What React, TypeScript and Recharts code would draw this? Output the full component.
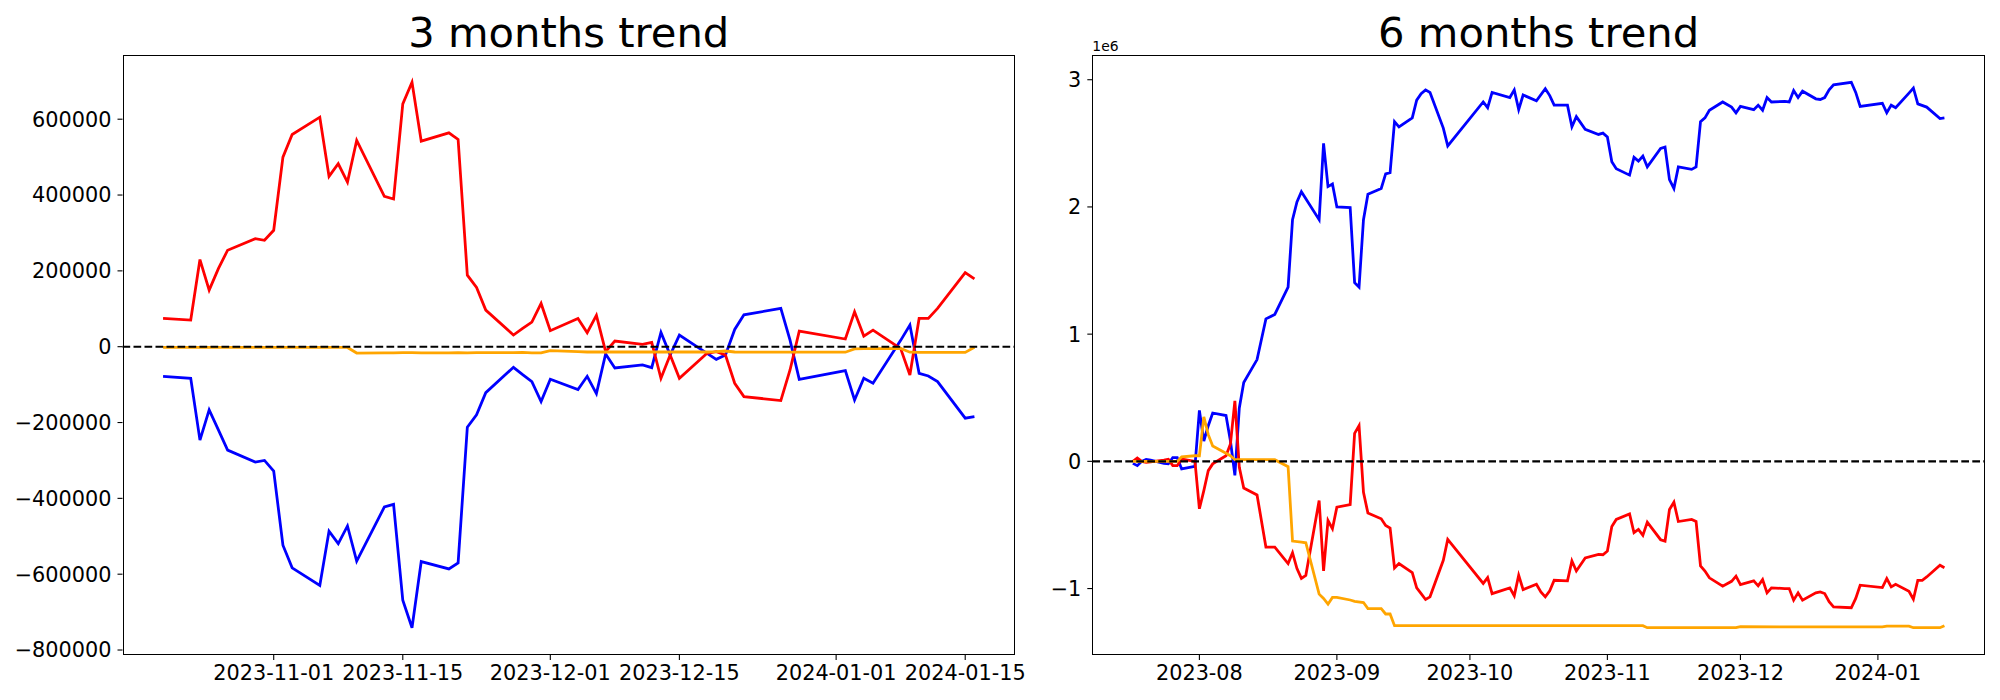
import { LineChart, Line, XAxis, YAxis, ReferenceLine } from "recharts";

const FONT = "DejaVu Sans";
const BLUE = "#0000ff";
const RED = "#ff0000";
const ORANGE = "#ffa500";

// ---- 3 months trend ----
const dates3 = [
  "2023-10-20", "2023-10-23", "2023-10-24", "2023-10-25", "2023-10-26", "2023-10-27", "2023-10-30", "2023-10-31",
  "2023-11-01", "2023-11-02", "2023-11-03", "2023-11-06", "2023-11-07", "2023-11-08", "2023-11-09", "2023-11-10",
  "2023-11-13", "2023-11-14", "2023-11-15", "2023-11-16", "2023-11-17", "2023-11-20", "2023-11-21", "2023-11-22",
  "2023-11-23", "2023-11-24", "2023-11-27", "2023-11-28", "2023-11-29", "2023-11-30",
  "2023-12-01", "2023-12-04", "2023-12-05", "2023-12-06", "2023-12-07", "2023-12-08", "2023-12-11", "2023-12-12",
  "2023-12-13", "2023-12-14", "2023-12-15", "2023-12-18", "2023-12-19", "2023-12-20", "2023-12-21", "2023-12-22",
  "2023-12-26", "2023-12-27", "2023-12-28", "2024-01-02", "2024-01-03", "2024-01-04", "2024-01-05", "2024-01-08",
  "2024-01-09", "2024-01-10", "2024-01-11", "2024-01-12", "2024-01-15", "2024-01-16",
];
const red3 = [
  74600, 70200, 229800, 149100, 206000, 254400, 285100, 280700,
  307000, 500000, 559600, 605300, 449100, 482500, 434200, 543900,
  396500, 389500, 640400, 697400, 542100, 564000, 546500, 188600,
  156100, 96500, 30700, 48200, 64900, 114000,
  42100, 74600, 36800, 82500, -13000, 14900, 6100, 11400,
  -83300, -21900, -83300, -17500, -13200, -21900, -96500, -131600,
  -142100, -61400, 41200, 20200, 92100, 28100, 43900, -5000,
  -74600, 74600, 74600, 100900, 195600, 178900,
];
const blue3 = [
  -78100, -83300, -246500, -166700, -219300, -272800, -304400, -300000,
  -328100, -523700, -583300, -629800, -486800, -519300, -472800, -565800,
  -422800, -415800, -668400, -741200, -566700, -586000, -570200, -212300,
  -179800, -121100, -54400, -73700, -92100, -144700,
  -86000, -113200, -78100, -123700, -19300, -56100, -48200, -55300,
  37700, -21900, 30700, -17500, -33300, -21900, 45600, 84200,
  100900, 17500, -86000, -63200, -140400, -83300, -96500, 16700,
  57000, -70200, -77200, -92100, -188600, -184200,
];
const orange3 = [
  -2000, -2000, -2000, -2000, -2000, -2000, -2000, -2000,
  -2000, -2000, -2000, -2000, -2000, -2000, -2000, -16700,
  -16200, -16200, -15800, -15800, -16200, -16200, -15400, -16200,
  -15800, -15800, -15800, -15000, -16200, -16200,
  -10500, -13200, -14000, -14000, -14000, -14000, -14000, -14000,
  -14000, -14000, -14000, -14000, -13200, -11400, -14000, -14500,
  -14500, -14500, -14500, -14500, -6000, -5300, -5300, -4400,
  -14500, -15000, -15000, -15000, -15000, -1500,
];
const ticksX3 = ["2023-11-01", "2023-11-15", "2023-12-01", "2023-12-15", "2024-01-01", "2024-01-15"];
const ticksY3 = [-800000, -600000, -400000, -200000, 0, 200000, 400000, 600000];

// ---- 6 months trend (values in units of 1e6) ----
const blueDates6 = [
  "2023-07-17", "2023-07-18", "2023-07-19", "2023-07-20", "2023-07-21", "2023-07-24", "2023-07-25", "2023-07-26", "2023-07-27", "2023-07-28", "2023-07-31",
  "2023-08-01", "2023-08-02", "2023-08-03", "2023-08-04", "2023-08-07", "2023-08-08", "2023-08-09", "2023-08-10", "2023-08-11", "2023-08-14",
  "2023-08-16", "2023-08-18", "2023-08-21", "2023-08-22", "2023-08-23", "2023-08-24", "2023-08-28", "2023-08-29", "2023-08-30", "2023-08-31",
  "2023-09-01", "2023-09-04", "2023-09-05", "2023-09-06", "2023-09-07", "2023-09-08", "2023-09-11", "2023-09-12", "2023-09-13", "2023-09-14",
  "2023-09-15", "2023-09-18", "2023-09-19", "2023-09-20", "2023-09-21", "2023-09-22", "2023-09-25", "2023-09-26",
  "2023-10-04", "2023-10-05", "2023-10-06", "2023-10-10", "2023-10-11", "2023-10-12", "2023-10-13", "2023-10-16", "2023-10-18", "2023-10-19",
  "2023-10-20", "2023-10-23", "2023-10-24", "2023-10-25", "2023-10-27", "2023-10-30", "2023-10-31",
  "2023-11-01", "2023-11-02", "2023-11-03", "2023-11-06", "2023-11-07", "2023-11-08", "2023-11-09", "2023-11-10", "2023-11-13", "2023-11-14",
  "2023-11-15", "2023-11-16", "2023-11-17", "2023-11-20", "2023-11-21", "2023-11-22", "2023-11-23", "2023-11-24", "2023-11-27", "2023-11-29", "2023-11-30",
  "2023-12-01", "2023-12-04", "2023-12-05", "2023-12-06", "2023-12-07", "2023-12-08", "2023-12-11", "2023-12-12", "2023-12-13", "2023-12-14",
  "2023-12-15", "2023-12-18", "2023-12-19", "2023-12-20", "2023-12-21", "2023-12-22", "2023-12-26", "2023-12-27", "2023-12-28",
  "2024-01-02", "2024-01-03", "2024-01-04", "2024-01-05", "2024-01-08", "2024-01-09", "2024-01-10", "2024-01-12", "2024-01-15", "2024-01-16",
];
const blue6 = [
  -0.016, -0.034, 0.0, 0.015, 0.01, -0.016, -0.02, 0.03, 0.03, -0.06, -0.04,
  0.4, 0.16, 0.28, 0.38, 0.36, 0.16, -0.11, 0.42, 0.62, 0.8,
  1.12, 1.155, 1.37, 1.9, 2.04, 2.12, 1.9, 2.5, 2.16, 2.18,
  2.0, 1.995, 1.405, 1.37, 1.9, 2.1, 2.145, 2.26, 2.27, 2.67,
  2.63, 2.7, 2.84, 2.89, 2.92, 2.9, 2.62, 2.48,
  2.825, 2.78, 2.9, 2.86, 2.92, 2.765, 2.88, 2.835, 2.93, 2.875,
  2.8, 2.8, 2.63, 2.71, 2.61, 2.57, 2.58,
  2.55, 2.355, 2.3, 2.25, 2.39, 2.36, 2.4, 2.315, 2.46, 2.47,
  2.215, 2.145, 2.315, 2.295, 2.315, 2.67, 2.7, 2.76, 2.825, 2.785, 2.74,
  2.79, 2.765, 2.8, 2.76, 2.86, 2.825, 2.83, 2.825, 2.915, 2.86,
  2.91, 2.85, 2.845, 2.86, 2.92, 2.96, 2.98, 2.9, 2.79,
  2.815, 2.74, 2.8, 2.78, 2.895, 2.935, 2.81, 2.785, 2.695, 2.7,
];
const redDates6 = [
  "2023-07-17", "2023-07-18", "2023-07-19", "2023-07-20", "2023-07-21", "2023-07-24", "2023-07-25", "2023-07-26", "2023-07-27", "2023-07-28", "2023-07-31",
  "2023-08-01", "2023-08-02", "2023-08-03", "2023-08-04", "2023-08-07", "2023-08-08", "2023-08-09", "2023-08-10", "2023-08-11", "2023-08-14",
  "2023-08-16", "2023-08-18", "2023-08-21", "2023-08-22", "2023-08-23", "2023-08-24", "2023-08-25", "2023-08-28", "2023-08-29", "2023-08-30", "2023-08-31",
  "2023-09-01", "2023-09-04", "2023-09-05", "2023-09-06", "2023-09-07", "2023-09-08", "2023-09-11", "2023-09-12", "2023-09-13", "2023-09-14",
  "2023-09-15", "2023-09-18", "2023-09-19", "2023-09-20", "2023-09-21", "2023-09-22", "2023-09-25", "2023-09-26",
  "2023-10-04", "2023-10-05", "2023-10-06", "2023-10-10", "2023-10-11", "2023-10-12", "2023-10-13", "2023-10-16", "2023-10-17", "2023-10-18",
  "2023-10-19", "2023-10-20", "2023-10-23", "2023-10-24", "2023-10-25", "2023-10-27", "2023-10-30", "2023-10-31",
  "2023-11-01", "2023-11-02", "2023-11-03", "2023-11-06", "2023-11-07", "2023-11-08", "2023-11-09", "2023-11-10", "2023-11-13", "2023-11-14",
  "2023-11-15", "2023-11-16", "2023-11-17", "2023-11-20", "2023-11-21", "2023-11-22", "2023-11-23", "2023-11-24", "2023-11-27", "2023-11-29", "2023-11-30",
  "2023-12-01", "2023-12-04", "2023-12-05", "2023-12-06", "2023-12-07", "2023-12-08", "2023-12-11", "2023-12-12", "2023-12-13", "2023-12-14",
  "2023-12-15", "2023-12-18", "2023-12-19", "2023-12-20", "2023-12-21", "2023-12-22", "2023-12-26", "2023-12-27", "2023-12-28",
  "2024-01-02", "2024-01-03", "2024-01-04", "2024-01-05", "2024-01-08", "2024-01-09", "2024-01-10", "2024-01-11", "2024-01-12", "2024-01-15", "2024-01-16",
];
const red6 = [
  0.0, 0.026, 0.0, -0.008, -0.005, 0.01, 0.016, -0.034, -0.034, 0.018, 0.0,
  -0.373, -0.23, -0.073, -0.02, 0.044, 0.136, 0.475, -0.047, -0.21, -0.264,
  -0.674, -0.674, -0.804, -0.718, -0.843, -0.92, -0.896, -0.308, -0.862, -0.465, -0.53,
  -0.36, -0.34, 0.22, 0.28, -0.243, -0.407, -0.452, -0.504, -0.525, -0.838,
  -0.804, -0.875, -0.995, -1.04, -1.086, -1.065, -0.778, -0.614,
  -0.96, -0.914, -1.04, -0.995, -1.057, -0.896, -1.008, -0.966, -1.026, -1.065,
  -1.018, -0.935, -0.94, -0.783, -0.862, -0.76, -0.731, -0.734,
  -0.705, -0.512, -0.457, -0.413, -0.561, -0.535, -0.582, -0.478, -0.616, -0.627,
  -0.379, -0.321, -0.473, -0.457, -0.473, -0.822, -0.862, -0.916, -0.982, -0.943, -0.903,
  -0.969, -0.94, -0.979, -0.93, -1.034, -0.995, -1.0, -1.0, -1.091, -1.034,
  -1.091, -1.034, -1.026, -1.039, -1.104, -1.144, -1.151, -1.078, -0.974,
  -0.992, -0.922, -0.987, -0.966, -1.021, -1.084, -0.935, -0.935, -0.909, -0.817, -0.836,
];
const orangeDates6 = [
  "2023-07-17", "2023-07-27", "2023-07-28", "2023-07-31", "2023-08-01", "2023-08-02", "2023-08-03", "2023-08-04",
  "2023-08-07", "2023-08-08", "2023-08-09", "2023-08-18", "2023-08-21", "2023-08-22", "2023-08-24", "2023-08-25",
  "2023-08-28", "2023-08-29", "2023-08-30", "2023-08-31", "2023-09-01", "2023-09-04", "2023-09-05", "2023-09-07",
  "2023-09-08", "2023-09-11", "2023-09-12", "2023-09-13", "2023-09-14", "2023-11-09", "2023-11-10", "2023-11-30",
  "2023-12-01", "2024-01-02", "2024-01-03", "2024-01-08", "2024-01-09", "2024-01-15", "2024-01-16",
];
const orange6 = [
  0.0, 0.0, 0.036, 0.044, 0.044, 0.35, 0.21, 0.12,
  0.063, 0.044, 0.013, 0.013, -0.042, -0.627, -0.635, -0.64,
  -1.044, -1.078, -1.123, -1.07, -1.07, -1.09, -1.1, -1.11,
  -1.157, -1.157, -1.2, -1.2, -1.292, -1.292, -1.308, -1.308,
  -1.3, -1.302, -1.295, -1.295, -1.308, -1.308, -1.292,
];
const ticksX6 = ["2023-08-01", "2023-09-01", "2023-10-01", "2023-11-01", "2023-12-01", "2024-01-01"];
const ticksY6 = [-1, 0, 1, 2, 3];

const toDay = (s: string) => Date.UTC(+s.slice(0, 4), +s.slice(5, 7) - 1, +s.slice(8, 10)) / 86400000;
const fromDay = (d: number) => new Date(Math.round(d) * 86400000).toISOString().slice(0, 10);
const minus = (v: number) => (v < 0 ? "\u2212" + Math.abs(v) : String(v));

const series = (dates: string[], vals: number[]) => dates.map((d, i) => ({ t: toDay(d), v: vals[i] }));

// matplotlib style 5% margins
function pad(vals: number[]): [number, number] {
  const lo = Math.min(...vals);
  const hi = Math.max(...vals);
  const m = (hi - lo) * 0.05;
  return [lo - m, hi + m];
}

const tickStyle = { fill: "#000", fontSize: 20.8, fontFamily: FONT };
const lineProps = { type: "linear" as const, dataKey: "v", dot: false, strokeWidth: 2.78, isAnimationActive: false };

interface PanelProps {
  left: number;
  width: number;
  yAxisWidth: number;
  marginRight: number;
  blue: { t: number; v: number }[];
  red: { t: number; v: number }[];
  orange: { t: number; v: number }[];
  xTicks: string[];
  xLabel: (s: string) => string;
  yTicks: number[];
}

function Panel({ left, width, yAxisWidth, marginRight, blue, red, orange, xTicks, xLabel, yTicks }: PanelProps) {
  const all = [...blue, ...red, ...orange];
  const xDom = pad(all.map((p) => p.t));
  const yDom = pad(all.map((p) => p.v));
  const plotLeft = left + yAxisWidth;
  const plotRight = left + width - marginRight;
  return (
    <>
      <div style={{ position: "absolute", left, top: 0 }}>
        <LineChart width={width} height={700} margin={{ top: 55, right: marginRight, bottom: 0, left: 0 }}>
          <XAxis
            dataKey="t"
            type="number"
            domain={xDom}
            allowDataOverflow
            ticks={xTicks.map(toDay)}
            interval={0}
            tickFormatter={(d: number) => xLabel(fromDay(d))}
            height={45}
            tickSize={5}
            tickMargin={5}
            axisLine={false}
            tickLine={{ stroke: "#000", strokeWidth: 1.1 }}
            tick={tickStyle}
          />
          <YAxis
            type="number"
            domain={yDom}
            allowDataOverflow
            ticks={yTicks}
            interval={0}
            tickFormatter={minus}
            width={yAxisWidth}
            tickSize={5}
            tickMargin={6}
            axisLine={false}
            tickLine={{ stroke: "#000", strokeWidth: 1.1 }}
            tick={tickStyle}
          />
          <Line {...lineProps} data={blue} stroke={BLUE} />
          <Line {...lineProps} data={red} stroke={RED} />
          <Line {...lineProps} data={orange} stroke={ORANGE} />
          <ReferenceLine y={0} stroke="#000" strokeWidth={2.08} strokeDasharray="7.7 3.3" />
        </LineChart>
      </div>
      <div
        style={{
          position: "absolute",
          left: plotLeft,
          top: 55,
          width: plotRight - plotLeft,
          height: 600,
          border: "1.1px solid #000",
          boxSizing: "border-box",
          pointerEvents: "none",
        }}
      />
    </>
  );
}

export default function App() {
  return (
    <div style={{ position: "absolute", left: 0, top: 0, width: 2000, height: 700, background: "#fff", overflow: "hidden" }}>
      <Panel
        left={0}
        width={1040}
        yAxisWidth={122.5}
        marginRight={25}
        blue={series(dates3, blue3)}
        red={series(dates3, red3)}
        orange={series(dates3, orange3)}
        xTicks={ticksX3}
        xLabel={(s) => s}
        yTicks={ticksY3}
      />
      <Panel
        left={1040}
        width={960}
        yAxisWidth={52.3}
        marginRight={15}
        blue={series(blueDates6, blue6)}
        red={series(redDates6, red6)}
        orange={series(orangeDates6, orange6)}
        xTicks={ticksX6}
        xLabel={(s) => s.slice(0, 7)}
        yTicks={ticksY6}
      />
      <svg width={2000} height={700} style={{ position: "absolute", left: 0, top: 0, pointerEvents: "none" }}>
        <text x={568.75} y={46.7} textAnchor="middle" fontFamily={FONT} fontSize={41.7} fill="#000">
          3 months trend
        </text>
        <text x={1538.6} y={46.7} textAnchor="middle" fontFamily={FONT} fontSize={41.7} fill="#000">
          6 months trend
        </text>
        <text x={1092.3} y={51} fontFamily={FONT} fontSize={13.9} fill="#000">
          1e6
        </text>
      </svg>
    </div>
  );
}
